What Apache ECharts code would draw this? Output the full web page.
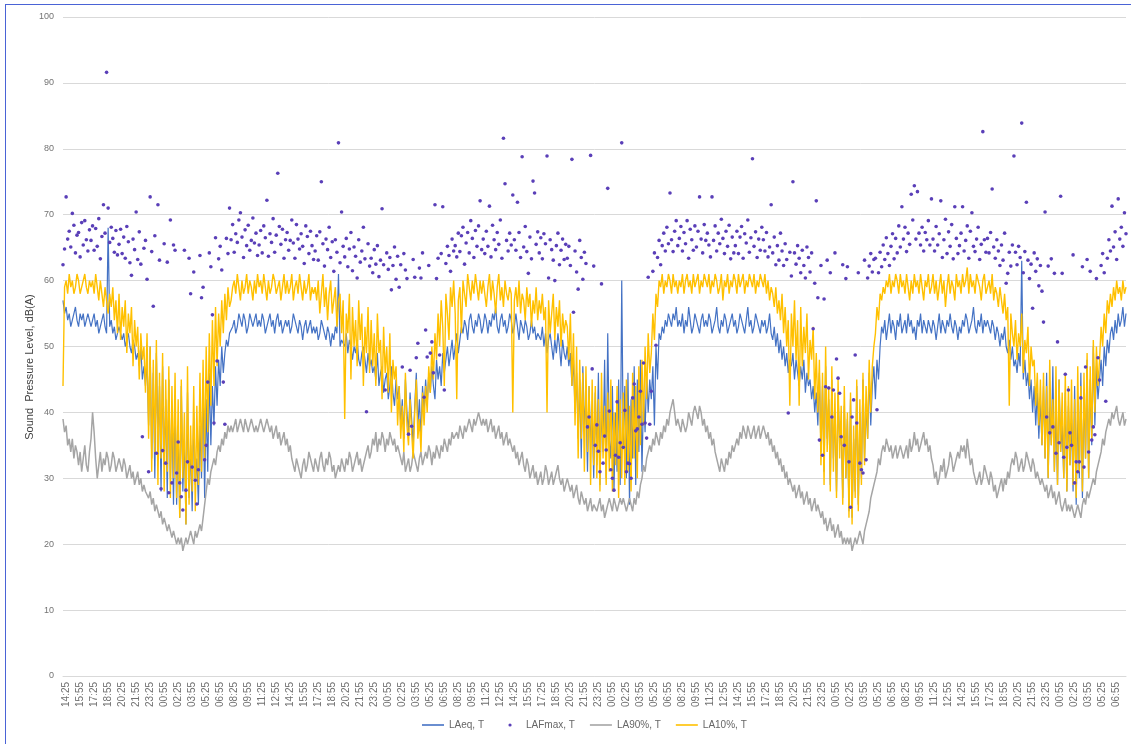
<!DOCTYPE html>
<html>
<head>
<meta charset="utf-8">
<script src="https://cdn.jsdelivr.net/npm/echarts@6/dist/echarts.min.js"></script>
<style>
html,body{margin:0;padding:0;background:#fff;}
#chart{position:absolute;left:0;top:0;width:1131px;height:744px;}
#frame{position:absolute;left:5px;top:4px;width:1140px;height:760px;border-left:1px solid #4a63d6;border-top:1px solid #4a63d6;pointer-events:none;}
</style>
</head>
<body>
<div id="chart"></div>
<div id="frame"></div>
<script>
// 10-minute intervals starting 14:05
const startTime = '14:05';
const stepMinutes = 10;
const yTicks = [0,10,20,30,40,50,60,70,80,90,100];
const seriesNames = ['LAeq, T','LAFmax, T','LA90%, T','LA10%, T'];
const yTitle = 'Sound  Pressure Level, dB(A)';

const LAeq = [
57,55,56,54,55,53,54,55,56,54,53,55,54,55,53,54,55,54,
53,54,55,53,54,52,53,54,55,53,52,68,53,54,52,53,51,52,
53,52,51,52,50,51,52,50,49,51,50,48,49,47,50,45,47,44,
48,38,50,33,46,30,49,35,44,28,47,32,42,27,45,30,40,26,
42,26,38,24,44,28,36,23,43,27,35,25,40,29,33,26,38,30,
45,27,42,31,46,35,44,38,47,41,48,44,50,46,49,51,50,52,
52,53,54,52,53,55,54,53,55,54,52,53,55,54,53,54,55,53,
54,53,55,54,52,53,54,55,53,54,52,54,55,53,54,52,53,54,
53,54,52,53,55,54,53,52,54,53,51,53,54,52,53,54,52,53,
52,53,51,52,54,53,52,51,53,52,50,52,51,53,52,61,50,51,
51,50,52,49,51,50,48,50,49,51,48,47,49,50,48,46,49,47,
48,46,47,45,49,44,46,47,43,45,46,42,44,47,43,41,45,42,
44,38,42,36,45,40,37,43,39,35,41,46,38,42,36,44,40,45,
41,46,43,47,44,42,48,45,47,44,49,46,48,50,47,49,51,48,
50,52,49,51,53,52,54,53,51,54,55,53,52,54,53,55,54,52,
53,55,54,52,54,53,55,54,56,53,52,54,55,53,54,52,53,55,
54,52,53,55,53,51,54,53,52,54,53,51,52,54,52,53,51,52,
52,51,53,50,52,49,51,52,50,48,51,49,52,50,47,51,49,48,
50,47,49,44,48,40,46,36,45,33,47,38,42,31,44,35,40,30,
43,32,46,29,41,34,48,30,52,36,33,44,28,40,31,45,29,60,
35,44,30,46,26,42,33,47,29,45,34,48,31,43,37,46,40,45,
42,47,38,50,45,52,51,53,52,54,53,55,54,53,55,54,56,53,
54,53,55,52,54,53,56,54,52,53,55,54,53,52,54,55,53,54,
53,55,54,52,53,54,56,53,52,54,53,55,54,52,53,54,55,53,
54,52,53,55,54,53,52,54,56,53,54,52,53,55,54,53,52,54,
53,54,52,53,55,52,51,53,50,52,49,51,48,50,47,49,46,48,
47,49,45,48,46,44,47,45,48,43,46,44,45,42,44,40,43,38,
46,34,44,31,47,36,42,29,45,33,40,28,43,35,38,27,41,30,
39,25,42,24,36,28,44,26,40,30,45,33,41,36,46,38,44,47,
42,48,45,50,53,52,54,51,53,55,52,54,53,51,54,53,55,52,
53,54,52,55,53,54,52,53,51,54,53,55,52,54,53,52,54,53,
52,54,53,51,53,55,52,54,53,52,54,53,55,53,52,54,53,51,
53,52,54,53,55,54,52,53,54,56,53,52,54,53,55,52,54,53,
54,53,52,54,53,51,53,52,50,52,51,53,50,49,51,48,50,47,
48,46,49,47,63,45,48,44,46,42,45,40,44,38,43,36,42,35,
44,33,46,30,42,35,47,31,40,29,45,34,38,30,43,28,41,32,
39,28,44,26,41,30,46,27,43,33,48,30,45,35,50,38,47,42,
45,48,44,50,47,51,49,52,53,51,54,52,55,53,54,56,53,55
];

const LAFmax = [
62.4,64.8,72.7,66.3,67.5,65.1,70.2,68.4,64.2,66.9,67.3,63.6,68.8,65.4,69.1,66.2,64.5,67.7,
66.1,68.3,64.6,67.9,65.2,69.4,63.3,66.7,71.5,67.2,91.6,71.0,65.8,68.1,66.4,64.3,67.6,63.9,
65.5,67.8,64.1,66.6,63.4,68.2,65.9,62.7,60.8,66.3,64.7,70.4,63.2,67.4,62.5,36.3,64.9,66.1,
60.2,31.0,72.7,64.4,56.1,66.8,33.8,71.5,63.1,28.4,34.2,65.6,32.3,62.8,27.8,69.2,29.3,65.4,
64.6,30.8,35.5,29.3,27.2,25.2,64.6,28.2,32.5,63.4,58.0,31.7,61.3,29.7,26.1,31.3,63.8,57.4,
59.0,32.8,35.0,44.6,64.2,62.1,54.8,38.4,66.5,47.8,63.3,65.2,61.6,44.6,38.2,66.4,64.1,71.0,
66.2,68.5,64.3,67.1,65.8,69.2,70.3,66.6,63.5,67.7,65.3,68.4,64.6,66.1,69.5,65.7,67.2,63.8,
65.4,67.6,64.2,68.3,66.5,72.2,63.7,67.1,65.8,69.4,64.3,66.9,76.3,68.2,65.5,67.8,63.4,66.2,
67.3,64.6,66.1,69.2,65.7,63.4,68.5,66.3,64.8,67.1,65.2,62.6,68.3,66.7,64.1,67.5,65.3,63.2,
64.5,66.8,63.1,67.4,75.0,65.6,62.2,66.3,64.7,68.1,63.5,65.9,61.4,66.2,64.3,80.9,62.7,70.4,
65.2,63.6,66.4,62.1,64.8,67.3,61.5,65.1,63.7,60.4,66.2,62.8,64.5,68.1,63.3,40.1,65.6,62.2,
63.4,61.2,64.7,62.5,65.3,60.6,63.1,70.9,62.4,43.4,64.2,61.7,63.5,58.6,62.3,65.1,60.2,63.7,
59.0,62.4,46.9,64.1,61.6,60.3,36.7,46.4,37.9,63.2,60.5,48.3,50.5,61.9,60.4,64.2,42.3,52.5,
48.4,62.3,49.0,50.7,46.0,71.5,60.3,63.4,48.7,64.1,71.2,43.4,62.6,65.2,63.8,61.4,66.3,64.5,
65.3,63.6,67.2,64.4,66.8,68.1,62.5,65.7,67.3,64.2,69.1,66.4,63.5,67.6,65.2,68.3,72.1,64.7,
66.3,64.1,67.5,65.2,71.3,63.6,68.4,66.2,64.7,67.3,65.5,69.2,63.4,81.6,74.7,66.1,64.5,67.2,
65.4,73.0,66.2,64.6,71.9,67.3,63.5,78.8,65.1,68.2,64.4,61.1,66.6,63.3,75.1,73.3,65.5,67.4,
64.2,66.5,63.3,67.1,65.6,78.9,60.4,66.2,64.7,63.1,60.0,65.3,67.2,62.4,64.6,66.3,63.2,65.5,
63.4,65.2,62.3,78.4,55.2,64.5,61.3,58.7,66.1,63.5,60.2,64.3,62.6,37.8,39.3,79.0,46.6,62.2,
35.0,38.1,34.1,31.0,59.5,32.3,36.4,34.3,74.0,40.2,31.3,30.0,28.2,33.5,41.6,33.2,35.4,80.9,
34.7,40.3,31.0,32.3,32.2,30.0,42.2,44.3,37.2,37.5,39.3,43.2,38.2,47.5,38.4,36.1,60.5,38.2,
43.2,61.4,64.2,50.2,63.5,66.1,62.4,65.3,67.2,64.5,68.1,65.6,73.3,66.2,64.4,67.5,69.1,65.3,
66.4,68.2,64.5,67.3,65.6,69.1,63.4,67.8,66.2,64.6,68.3,65.1,67.5,72.7,66.3,64.2,68.5,66.1,
67.2,65.4,63.6,72.7,66.1,68.3,64.5,67.2,65.6,69.3,66.4,64.1,67.5,65.2,68.4,63.3,66.6,64.2,
65.3,67.5,64.1,66.6,68.2,63.4,67.1,65.7,69.2,64.3,66.5,78.5,65.2,67.4,63.5,66.3,64.6,68.1,
66.2,64.5,67.3,63.6,65.1,71.5,64.2,66.6,62.4,65.3,63.1,67.2,64.5,62.3,65.6,63.2,39.9,64.3,
60.7,75.0,64.2,62.5,65.3,63.4,61.2,64.6,62.3,60.4,65.1,63.5,61.3,64.2,52.7,59.6,72.1,57.4,
35.8,62.3,33.5,57.2,43.9,63.1,43.7,61.2,39.3,43.4,64.2,48.1,45.2,42.9,36.3,62.4,35.0,60.3,
62.1,32.5,25.6,39.3,41.9,48.7,38.4,61.2,32.3,31.3,30.8,63.1,32.8,60.4,62.2,64.1,61.3,63.2,
63.4,40.4,61.2,64.3,62.1,65.4,63.2,66.5,64.1,62.3,65.2,67.1,63.3,66.4,64.2,68.3,65.1,71.2,
66.3,68.1,64.4,67.2,65.5,73.1,69.2,74.4,66.3,73.5,67.2,65.4,68.1,64.5,67.3,66.2,69.1,65.4,
72.4,66.3,64.5,68.2,65.4,67.1,72.1,63.5,66.2,69.3,64.1,67.4,65.2,68.5,63.3,71.2,66.4,64.1,
65.3,67.2,71.2,64.5,66.1,68.3,63.4,67.5,70.3,65.2,64.4,66.3,68.1,63.2,65.5,82.6,66.2,64.3,
66.4,64.2,67.3,73.9,65.1,63.4,66.2,64.5,62.3,65.4,63.1,67.2,59.6,61.1,64.3,62.2,65.4,78.9,
64.3,62.4,65.2,63.5,83.9,61.2,64.4,71.9,63.1,60.3,62.5,55.8,64.2,61.4,63.3,59.2,62.3,58.4,
53.7,70.4,39.3,62.2,36.9,63.3,37.8,61.1,33.8,50.7,35.4,72.8,61.1,33.2,45.8,34.7,43.4,36.9,
35.0,63.9,29.3,32.5,31.0,32.5,42.2,62.1,31.7,46.9,63.2,34.0,61.4,35.8,37.8,36.6,60.3,48.3,
44.9,62.3,64.1,61.2,41.7,63.4,66.2,64.5,71.3,65.1,67.4,63.2,72.4,66.3,68.1,65.2,70.3,67.1
];

const LA90 = [
39,37,38,35,36,34,36,33,35,34,32,34,31,33,35,32,31,34,
36,40,37,33,30,32,34,31,33,32,34,33,31,32,34,33,31,32,
33,32,31,33,32,30,31,32,30,31,29,30,31,29,30,28,29,28,
28,27,28,26,27,25,26,25,24,25,23,24,23,22,23,22,21,22,
21,20,21,20,21,19,20,21,20,21,22,21,20,22,21,22,23,22,
24,26,28,30,29,31,32,33,32,34,35,34,36,35,37,36,38,37,
38,37,38,39,37,38,39,38,37,39,38,37,38,39,38,37,38,37,
38,39,38,37,38,39,38,37,38,36,37,38,36,37,35,36,37,35,
36,34,35,33,32,31,33,32,31,30,32,33,31,32,34,33,32,31,
33,32,31,33,34,32,31,33,32,34,33,31,32,30,31,32,31,33,
32,31,33,32,34,33,31,32,33,34,32,33,31,32,33,34,35,33,
34,36,35,37,34,36,35,37,36,34,36,35,37,36,35,36,34,35,
34,33,32,34,31,32,33,31,32,34,33,32,31,33,34,32,33,34,
33,35,34,32,34,33,35,34,33,35,34,36,35,34,36,35,37,36,
36,37,36,38,37,36,38,37,38,39,38,37,39,38,39,40,39,38,
39,38,39,37,38,39,37,38,36,37,38,36,37,35,36,37,35,36,
35,34,35,33,34,32,33,34,32,31,33,32,30,31,32,30,31,29,
30,31,29,30,32,31,29,30,31,29,30,31,32,30,29,30,28,29,
30,29,28,29,27,28,29,27,26,28,27,26,27,25,26,27,25,26,
26,25,26,27,25,26,24,25,26,27,26,25,27,26,25,26,27,26,
27,26,25,26,27,26,25,27,26,28,27,29,30,32,31,33,34,35,
34,36,35,37,36,35,37,36,38,37,39,38,40,41,42,40,38,39,
38,37,39,38,37,38,40,39,38,40,41,40,39,41,40,38,39,37,
38,36,37,35,36,34,33,32,31,33,32,31,33,32,34,33,35,34,
35,36,35,37,36,38,37,36,38,37,36,37,38,36,37,38,36,37,
38,37,36,37,35,36,34,35,33,34,32,33,31,32,30,31,29,30,
30,28,29,27,28,29,27,28,26,27,28,26,27,25,26,27,25,26,
25,24,25,23,24,22,23,24,22,23,21,22,23,21,22,20,21,20,
21,20,21,19,20,21,20,21,22,21,20,22,23,24,25,27,28,29,
30,31,33,32,34,35,34,36,35,34,35,33,34,35,33,34,35,34,
33,34,35,33,36,34,35,37,35,36,34,35,36,37,35,36,34,35,
33,32,30,31,29,30,32,31,33,30,31,32,34,33,31,32,33,34,
33,35,34,35,33,36,34,32,33,31,30,29,30,31,29,30,32,31,
30,29,31,30,28,29,27,28,29,30,28,30,29,31,30,32,33,32,
34,33,31,32,33,31,32,34,33,32,31,33,32,30,31,30,29,30,
29,28,29,27,28,29,27,28,26,27,28,26,25,26,27,25,26,25,
26,25,24,25,26,25,24,26,27,26,28,27,28,29,30,29,31,32,
33,34,36,35,37,38,39,38,40,39,40,41,39,38,39,40,38,39
];

const LA10 = [
44,59,60,58,61,59,60,58,59,61,60,58,59,60,61,59,58,60,
59,60,58,61,59,57,60,58,56,59,57,55,58,56,59,54,57,52,
58,51,56,53,57,49,55,52,56,47,54,50,53,45,52,48,50,43,
52,36,50,31,48,34,51,29,46,33,49,28,45,31,47,27,44,30,
46,27,42,24,45,30,40,23,47,26,38,28,44,25,41,29,46,31,
48,33,50,37,52,41,54,44,56,47,55,50,57,52,58,54,59,56,
57,59,60,58,61,59,57,60,58,59,61,58,60,59,57,60,58,61,
59,60,58,61,59,57,60,58,59,61,60,58,59,60,57,59,61,58,
60,58,59,61,57,59,60,58,61,59,57,60,58,59,61,57,59,58,
59,57,60,55,58,61,56,59,54,58,60,55,57,59,53,57,58,52,
57,39,55,52,58,45,56,50,54,47,57,51,55,44,53,49,56,46,
54,47,52,44,55,49,51,42,53,46,50,43,52,40,48,45,47,38,
44,36,41,34,46,38,35,42,37,33,40,45,36,39,34,43,38,44,
40,47,43,50,45,52,48,55,50,57,53,44,58,55,51,59,56,60,
55,42,57,59,52,60,58,56,61,59,57,60,58,61,59,57,60,58,
60,58,56,59,61,57,60,58,55,59,61,57,59,56,60,58,57,59,
58,40,57,59,56,60,55,58,57,54,59,56,58,53,57,55,59,54,
57,55,58,54,56,40,57,52,55,58,51,56,53,57,50,55,52,54,
53,48,55,44,52,38,50,33,48,36,46,31,47,34,44,29,45,32,
44,30,42,28,46,33,41,29,43,31,45,28,40,32,44,27,42,30,
43,29,45,31,41,28,46,33,44,30,47,35,48,38,50,42,52,46,
49,55,51,58,56,60,59,61,58,60,59,61,60,58,61,59,60,58,
60,59,61,58,60,61,59,60,58,61,59,60,61,58,60,59,61,60,
59,61,58,60,59,61,60,58,59,61,57,60,59,61,58,60,59,61,
60,58,61,59,60,61,58,60,59,61,60,59,61,58,60,59,61,60,
59,61,58,60,57,59,58,56,59,55,57,54,58,52,56,50,54,41,
55,50,57,48,54,41,56,47,53,49,55,45,51,48,53,42,49,40,
48,32,46,29,50,34,44,28,47,31,43,27,45,33,41,26,44,30,
40,24,43,23,38,27,45,25,42,29,46,32,44,36,48,40,47,50,
52,56,54,58,57,59,58,60,59,61,58,60,59,61,60,58,61,59,
60,58,61,59,57,60,58,61,59,60,58,61,59,57,60,59,61,58,
59,61,58,60,57,59,61,58,60,56,59,61,58,60,59,57,61,59,
60,58,61,59,60,62,58,61,59,60,58,61,60,59,57,60,61,58,
59,60,58,61,57,59,58,56,59,57,55,58,54,56,41,55,52,50,
54,48,52,50,55,46,51,49,53,44,50,47,48,41,46,38,45,35,
46,33,44,30,48,35,42,31,47,29,45,34,43,30,46,28,44,32,
45,29,42,27,47,31,44,28,46,33,49,30,47,36,51,40,50,44,
48,53,50,55,52,57,55,58,56,59,57,60,58,59,57,60,58,59
];

// category labels (clock times)
const categories = [];
(function(){
  const p = startTime.split(':');
  let m = (+p[0]) * 60 + (+p[1]);
  for (let i = 0; i < LAeq.length; i++) {
    const t = ((m + i * stepMinutes) % 1440 + 1440) % 1440;
    const hh = String(Math.floor(t / 60)).padStart(2, '0');
    const mm = String(t % 60).padStart(2, '0');
    categories.push(hh + ':' + mm);
  }
})();
const labelOffset = 2, labelEvery = 9;

const FONT = 'Liberation Sans';
const lineIcon = 'path://M0,0h22v1.6h-22z';
const dotIcon = 'path://M0,0L0,0M22,8L22,8M9.4,4a1.6,1.6 0 1,0 3.2,0a1.6,1.6 0 1,0 -3.2,0z';
const chart = echarts.init(document.getElementById('chart'), null, {renderer: 'canvas'});
chart.setOption({
  animation: false,
  backgroundColor: '#ffffff',
  grid: {left: 63, right: 5, top: 17, bottom: 68, containLabel: false},
  legend: {
    top: 715, left: 417,
    itemWidth: 22, itemHeight: 8, itemGap: 15,
    textStyle: {fontFamily: FONT, fontSize: 10, color: '#666666'},
    data: [
      {name: seriesNames[0], icon: lineIcon},
      {name: seriesNames[1], icon: dotIcon},
      {name: seriesNames[2], icon: lineIcon},
      {name: seriesNames[3], icon: lineIcon}
    ]
  },
  graphic: [{
    type: 'text', x: 30, y: 367, rotation: Math.PI / 2,
    style: {text: yTitle, font: '11px "Liberation Sans"', fill: '#404040', align: 'center', verticalAlign: 'middle'}
  }],
  xAxis: {
    type: 'category',
    data: categories,
    boundaryGap: false,
    axisLine: {show: true, lineStyle: {color: '#d9d9d9'}},
    axisTick: {show: false},
    splitLine: {show: false},
    axisLabel: {
      rotate: 90, fontFamily: FONT, fontSize: 10, color: '#707070', margin: 6,
      interval: function (idx) { return idx >= labelOffset && (idx - labelOffset) % labelEvery === 0; }
    }
  },
  yAxis: {
    type: 'value', min: yTicks[0], max: yTicks[yTicks.length - 1], interval: 10,
    axisLine: {show: false}, axisTick: {show: false},
    axisLabel: {fontFamily: FONT, fontSize: 9, color: '#737373', margin: 9},
    splitLine: {lineStyle: {color: '#d9d9d9', width: 1}}
  },
  series: [
    {name: seriesNames[0], type: 'line', data: LAeq, symbol: 'none', showSymbol: false,
     lineStyle: {color: '#4472c4', width: 1.2}, itemStyle: {color: '#4472c4'}, z: 2},
    {name: seriesNames[2], type: 'line', data: LA90, symbol: 'none', showSymbol: false,
     lineStyle: {color: '#a5a5a5', width: 1.5}, itemStyle: {color: '#a5a5a5'}, z: 3},
    {name: seriesNames[3], type: 'line', data: LA10, symbol: 'none', showSymbol: false,
     lineStyle: {color: '#ffc000', width: 1.4}, itemStyle: {color: '#ffc000'}, z: 4},
    {name: seriesNames[1], type: 'scatter', data: LAFmax, symbol: 'circle', symbolSize: 3.6,
     itemStyle: {color: '#5a3fb8', opacity: 1}, z: 6}
  ]
});
</script>
</body>
</html>
